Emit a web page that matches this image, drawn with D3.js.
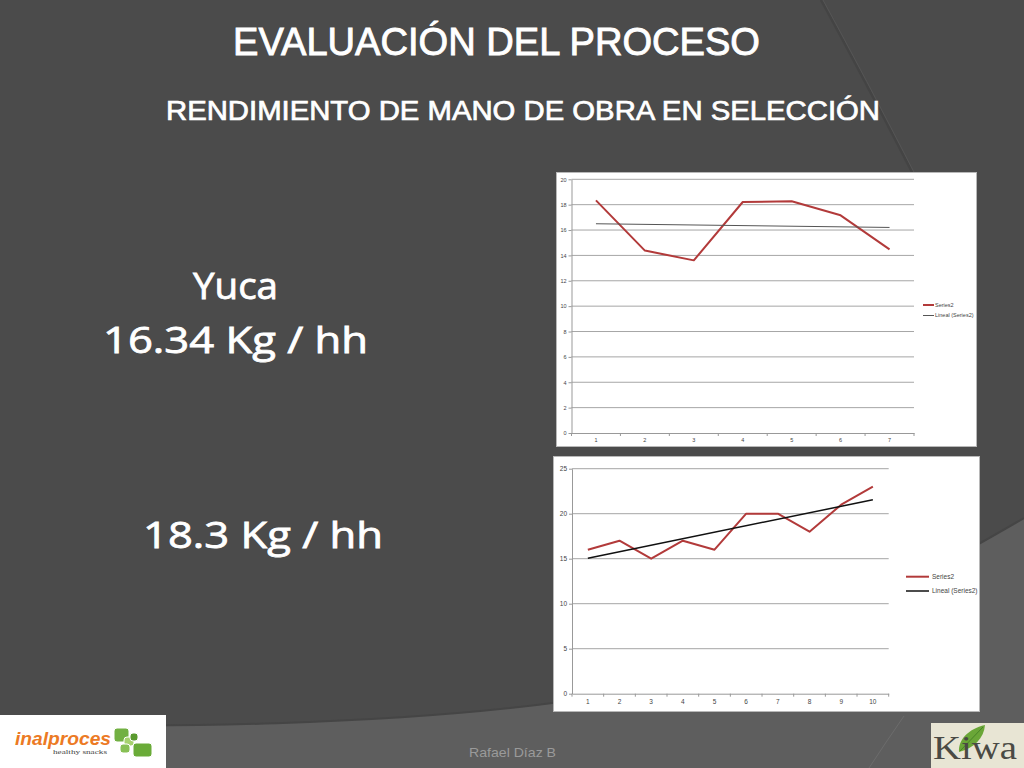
<!DOCTYPE html>
<html>
<head>
<meta charset="utf-8">
<script src="https://cdn.jsdelivr.net/npm/d3@7"></script>
<style>
  html, body { margin: 0; padding: 0; background: #4b4b4b; }
  svg { display: block; }
</style>
</head>
<body>
<svg id="slide" width="1024" height="768"></svg>
<script>
// ---------- data ----------
const topCategories = ["1", "2", "3", "4", "5", "6", "7"];
const topValues = [18.34, 14.38, 13.61, 18.21, 18.27, 17.16, 14.48];
const topYTicks = [0, 2, 4, 6, 8, 10, 12, 14, 16, 18, 20];

const bottomCategories = ["1", "2", "3", "4", "5", "6", "7", "8", "9", "10"];
const bottomValues = [16, 17, 15, 17, 16, 20, 20, 18, 21, 23];
const bottomYTicks = [0, 5, 10, 15, 20, 25];

const legendLabels = ["Series2", "Lineal (Series2)"];

const titleText = "EVALUACIÓN DEL PROCESO";
const subtitleText = "RENDIMIENTO DE MANO DE OBRA EN SELECCIÓN";
const leftTexts = ["Yuca", "16.34 Kg / hh", "18.3 Kg / hh"];
const footerText = "Rafael Díaz B";

// ---------- slide background ----------
const svg = d3.select("#slide");
svg.append("rect").attr("width", 1024).attr("height", 768).attr("fill", "#4b4b4b");
svg.append("path")
  .attr("d", "M821,0 Q862,75 914,176")
  .attr("fill", "none").attr("stroke", "#444444").attr("stroke-width", 2.5);
svg.append("path")
  .attr("d", "M823,0 Q864,75 916,176")
  .attr("fill", "none").attr("stroke", "#555555").attr("stroke-width", 1);
svg.append("path")
  .attr("d", "M0,722 C150,730 400,724 560,702 C750,672 900,590 1024,518 L1024,768 L0,768 Z")
  .attr("fill", "#5e5e5e");
svg.append("path")
  .attr("d", "M0,722 C150,730 400,724 560,702 C750,672 900,590 1024,518")
  .attr("fill", "none").attr("stroke", "#454545").attr("stroke-width", 2);
svg.append("path")
  .attr("d", "M904,716 Q886,742 869,768")
  .attr("fill", "none").attr("stroke", "#6c6c6c").attr("stroke-width", 1);

// ---------- titles ----------
const titleFont = "'Liberation Sans', Arial, sans-serif";
svg.append("text").text(titleText)
  .attr("x", 233).attr("y", 55)
  .attr("textLength", 527).attr("lengthAdjust", "spacingAndGlyphs")
  .attr("font-family", titleFont)
  .attr("font-size", 39).attr("fill", "#ffffff")
  .attr("stroke", "#ffffff").attr("stroke-width", 0.9);
svg.append("text").text(subtitleText)
  .attr("x", 166).attr("y", 119.5)
  .attr("textLength", 714).attr("lengthAdjust", "spacingAndGlyphs")
  .attr("font-family", titleFont)
  .attr("font-size", 27).attr("fill", "#ffffff")
  .attr("stroke", "#ffffff").attr("stroke-width", 0.7);

const bigFont = "'Open Sans', 'Liberation Sans', sans-serif";
const bigSpecs = [
  { x: 193, y: 298.5, w: 85 },
  { x: 103, y: 353, w: 265 },
  { x: 143, y: 548, w: 240 }
];
svg.selectAll("text.big").data(leftTexts).join("text")
  .attr("class", "big")
  .text(d => d)
  .attr("x", (d, i) => bigSpecs[i].x)
  .attr("y", (d, i) => bigSpecs[i].y)
  .attr("textLength", (d, i) => bigSpecs[i].w)
  .attr("lengthAdjust", "spacingAndGlyphs")
  .attr("font-family", bigFont)
  .attr("font-size", 37).attr("fill", "#ffffff")
  .attr("stroke", "#ffffff").attr("stroke-width", 0.8);

svg.append("text").text(footerText)
  .attr("x", 469).attr("y", 756.5)
  .attr("textLength", 87).attr("lengthAdjust", "spacingAndGlyphs")
  .attr("font-family", "'Liberation Sans', Arial, sans-serif")
  .attr("font-size", 13).attr("fill", "#9a9a9a");

// ---------- chart drawing ----------
function linearTrend(values) {
  const xs = values.map((v, i) => i + 1);
  const mx = d3.mean(xs), my = d3.mean(values);
  const num = d3.sum(values, (v, i) => (xs[i] - mx) * (v - my));
  const den = d3.sum(xs, x => (x - mx) * (x - mx));
  const slope = num / den;
  return values.map((v, i) => my + slope * (xs[i] - mx));
}

function drawChart(cfg) {
  const g = svg.append("g");
  g.append("rect")
    .attr("x", cfg.box[0]).attr("y", cfg.box[1])
    .attr("width", cfg.box[2]).attr("height", cfg.box[3])
    .attr("fill", "#ffffff").attr("stroke", "#b8b8b8").attr("stroke-width", 1);

  const x = d3.scaleBand().domain(cfg.categories).range([cfg.plot.left, cfg.plot.right]).paddingInner(0).paddingOuter(0);
  const y = d3.scaleLinear().domain([cfg.yTicks[0], cfg.yTicks[cfg.yTicks.length - 1]]).range([cfg.plot.bottom, cfg.plot.top]);
  const cx = d => x(d) + x.bandwidth() / 2;

  g.selectAll("line.grid").data(cfg.yTicks.slice(1)).join("line")
    .attr("x1", cfg.plot.left).attr("x2", cfg.plot.right)
    .attr("y1", d => y(d)).attr("y2", d => y(d))
    .attr("stroke", "#a6a6a6").attr("stroke-width", 1);

  const yAxis = g.append("g").attr("transform", `translate(${cfg.plot.left},0)`)
    .call(d3.axisLeft(y).tickValues(cfg.yTicks).tickSize(3).tickPadding(2).tickSizeOuter(0));
  yAxis.select(".domain").attr("stroke", "#999");
  yAxis.selectAll(".tick line").attr("stroke", "#999");
  yAxis.selectAll(".tick text").attr("fill", "#444").attr("font-size", cfg.fontSize)
    .attr("font-family", "'Liberation Sans', Arial, sans-serif");

  const xAxis = g.append("g").attr("transform", `translate(0,${cfg.plot.bottom})`)
    .call(d3.axisBottom(x).tickSize(0).tickPadding(cfg.xPad).tickSizeOuter(0));
  xAxis.select(".domain").attr("stroke", "#999");
  xAxis.selectAll(".tick text").attr("fill", "#444").attr("font-size", cfg.fontSize)
    .attr("font-family", "'Liberation Sans', Arial, sans-serif");
  const bounds = cfg.categories.map(d => x(d)).concat([cfg.plot.right]);
  g.selectAll("line.xt").data(bounds).join("line")
    .attr("x1", d => d).attr("x2", d => d)
    .attr("y1", cfg.plot.bottom).attr("y2", cfg.plot.bottom + 3)
    .attr("stroke", "#999");

  const line = d3.line().x((d, i) => cx(cfg.categories[i])).y(d => y(d));
  g.append("path").datum(cfg.values).attr("d", line)
    .attr("fill", "none").attr("stroke", "#b23a3a").attr("stroke-width", 2)
    .attr("stroke-linejoin", "round");
  const trend = linearTrend(cfg.values);
  g.append("line")
    .attr("x1", cx(cfg.categories[0])).attr("y1", y(trend[0]))
    .attr("x2", cx(cfg.categories[cfg.categories.length - 1])).attr("y2", y(trend[trend.length - 1]))
    .attr("stroke", cfg.trendColor).attr("stroke-width", cfg.trendWidth);

  const lg = g.append("g");
  legendLabels.forEach((lab, i) => {
    const ly = cfg.legend.y[i];
    lg.append("line").attr("x1", cfg.legend.x1).attr("x2", cfg.legend.x2)
      .attr("y1", ly).attr("y2", ly)
      .attr("stroke", i === 0 ? "#b23a3a" : cfg.trendColor)
      .attr("stroke-width", i === 0 ? 2 : cfg.trendWidth);
    lg.append("text").text(lab)
      .attr("x", cfg.legend.tx).attr("y", ly).attr("dy", "0.35em")
      .attr("font-size", cfg.fontSize).attr("fill", "#444")
      .attr("font-family", "'Liberation Sans', Arial, sans-serif");
  });
}

drawChart({
  box: [556.5, 172.5, 420, 274],
  plot: { left: 571.5, right: 914, top: 179.3, bottom: 433 },
  categories: topCategories, values: topValues, yTicks: topYTicks,
  fontSize: 5.5, xPad: 5,
  trendColor: "#555555", trendWidth: 1,
  legend: { x1: 923, x2: 934, tx: 935, y: [305, 315.5] }
});

drawChart({
  box: [553.5, 456.5, 426, 255],
  plot: { left: 572, right: 888.7, top: 468.7, bottom: 693.7 },
  categories: bottomCategories, values: bottomValues, yTicks: bottomYTicks,
  fontSize: 6.5, xPad: 6,
  trendColor: "#111111", trendWidth: 1.5,
  legend: { x1: 906, x2: 929, tx: 932, y: [576.7, 591] }
});

// ---------- logos ----------
const logoL = svg.append("g");
logoL.append("rect").attr("x", 0).attr("y", 715).attr("width", 166).attr("height", 53).attr("fill", "#ffffff");
logoL.append("text").text("inalproces")
  .attr("x", 15).attr("y", 745).attr("textLength", 96).attr("lengthAdjust", "spacingAndGlyphs")
  .attr("font-family", "'Liberation Sans', Arial, sans-serif").attr("font-weight", "bold")
  .attr("font-style", "italic").attr("font-size", 18).attr("fill", "#ec7a24");
logoL.append("text").text("healthy snacks")
  .attr("x", 53).attr("y", 754).attr("textLength", 54).attr("lengthAdjust", "spacingAndGlyphs")
  .attr("font-family", "'Liberation Serif', serif")
  .attr("font-size", 7).attr("fill", "#444");
const sq = [
  [114, 728, 15, 14, "#72b043"],
  [124, 737, 10, 9, "#a6d26e"],
  [130, 733, 8, 8, "#5a9a2e"],
  [133, 743, 19, 14, "#6aab38"],
  [120, 744, 10, 9, "#88c055"]
];
logoL.selectAll("rect.sq").data(sq).join("rect")
  .attr("x", d => d[0]).attr("y", d => d[1]).attr("width", d => d[2]).attr("height", d => d[3])
  .attr("rx", 3).attr("fill", d => d[4]).attr("stroke", "#ffffff").attr("stroke-width", 1);

const logoR = svg.append("g");
logoR.append("rect").attr("x", 931).attr("y", 723).attr("width", 93).attr("height", 45).attr("fill", "#e8e5d4");
logoR.append("path")
  .attr("d", "M959,752 C958,740 968,729 985,725 C984,738 974,748 959,752 Z")
  .attr("fill", "#6aa637");
logoR.append("path")
  .attr("d", "M960,751 L983,727")
  .attr("stroke", "#3f7a22").attr("stroke-width", 0.8);
logoR.append("text").text("Kiwa")
  .attr("x", 933).attr("y", 759).attr("textLength", 84).attr("lengthAdjust", "spacingAndGlyphs")
  .attr("font-family", "'Liberation Serif', 'DejaVu Serif', serif")
  .attr("font-size", 34).attr("fill", "#4a4a44");
</script>
</body>
</html>
